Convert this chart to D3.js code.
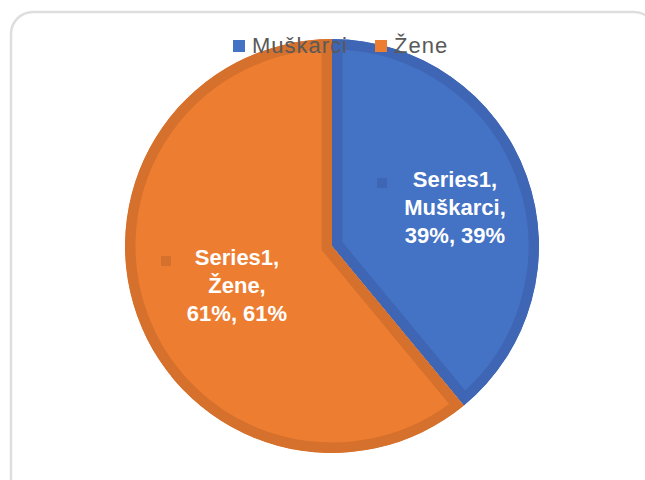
<!DOCTYPE html>
<html>
<head>
<meta charset="utf-8">
<script src="https://cdn.jsdelivr.net/npm/d3@7"></script>
<style>
  html, body { margin: 0; padding: 0; background: #fff; }
  svg { display: block; font-family: "Liberation Sans", Arial, sans-serif; }
</style>
</head>
<body>
<div id="chart"></div>
<script>
const categories = ["Muškarci", "Žene"];
const values = [39, 61];
const seriesName = "Series1";
const fills = ["#4472c4", "#ed7d31"];
const edges = ["#3e66b4", "#d5712c"];

const width = 645, height = 480;
const cx = 332, cy = 246, r = 207;

const svg = d3.select("#chart").append("svg")
    .attr("width", width)
    .attr("height", height);

// card frame
svg.append("rect")
    .attr("x", 11).attr("y", 12)
    .attr("width", 645).attr("height", 495)
    .attr("rx", 22)
    .attr("fill", "#fff")
    .attr("stroke", "#dedede")
    .attr("stroke-width", 2.5);

const data = categories.map((c, i) => ({ name: c, value: values[i], i }));

const pie = d3.pie().sort(null).value(d => d.value);
const arc = d3.arc().innerRadius(0).outerRadius(r);
const arcs = pie(data);

const g = svg.append("g").attr("transform", `translate(${cx},${cy})`);
const defs = svg.append("defs");

arcs.forEach((a, i) => {
    defs.append("clipPath").attr("id", "clip" + i)
        .append("path").attr("d", arc(a));
});

// slices with an inner edge (wide stroke clipped to the slice)
g.selectAll(".slice")
    .data(arcs)
    .join("path")
    .attr("class", "slice")
    .attr("d", arc)
    .attr("clip-path", (d, i) => `url(#clip${i})`)
    .attr("fill", (d, i) => fills[i])
    .attr("stroke", (d, i) => edges[i])
    .attr("stroke-width", 21)
    .attr("stroke-linejoin", "miter");

// data labels
const labelPos = [
    { x: 455, y: 187, key: 377 },
    { x: 237, y: 265, key: 161 }
];
arcs.forEach((a, i) => {
    const p = labelPos[i];
    svg.append("rect")
        .attr("x", p.key).attr("y", p.y - 9)
        .attr("width", 10).attr("height", 10)
        .attr("fill", edges[i]);
    const t = svg.append("text")
        .attr("text-anchor", "middle")
        .attr("fill", "#fff")
        .attr("font-weight", "bold")
        .attr("font-size", 22);
    const pct = d3.format(".0%")(a.data.value / d3.sum(values));
    [seriesName + ",", a.data.name + ",", `${pct}, ${pct}`].forEach((line, k) => {
        t.append("tspan").attr("x", p.x).attr("y", p.y + k * 28).text(line);
    });
});

// legend
const legend = svg.append("g").attr("transform", "translate(233,53)");
let lx = 0;
categories.forEach((c, i) => {
    legend.append("rect")
        .attr("x", lx).attr("y", -13)
        .attr("width", 12).attr("height", 12)
        .attr("fill", fills[i]);
    const txt = legend.append("text")
        .attr("x", lx + 19).attr("y", 0)
        .attr("fill", "#595959")
        .attr("font-size", 22)
        .attr("letter-spacing", 1)
        .text(c);
    lx += 19 + txt.node().getComputedTextLength() + 27;
});
</script>
</body>
</html>
